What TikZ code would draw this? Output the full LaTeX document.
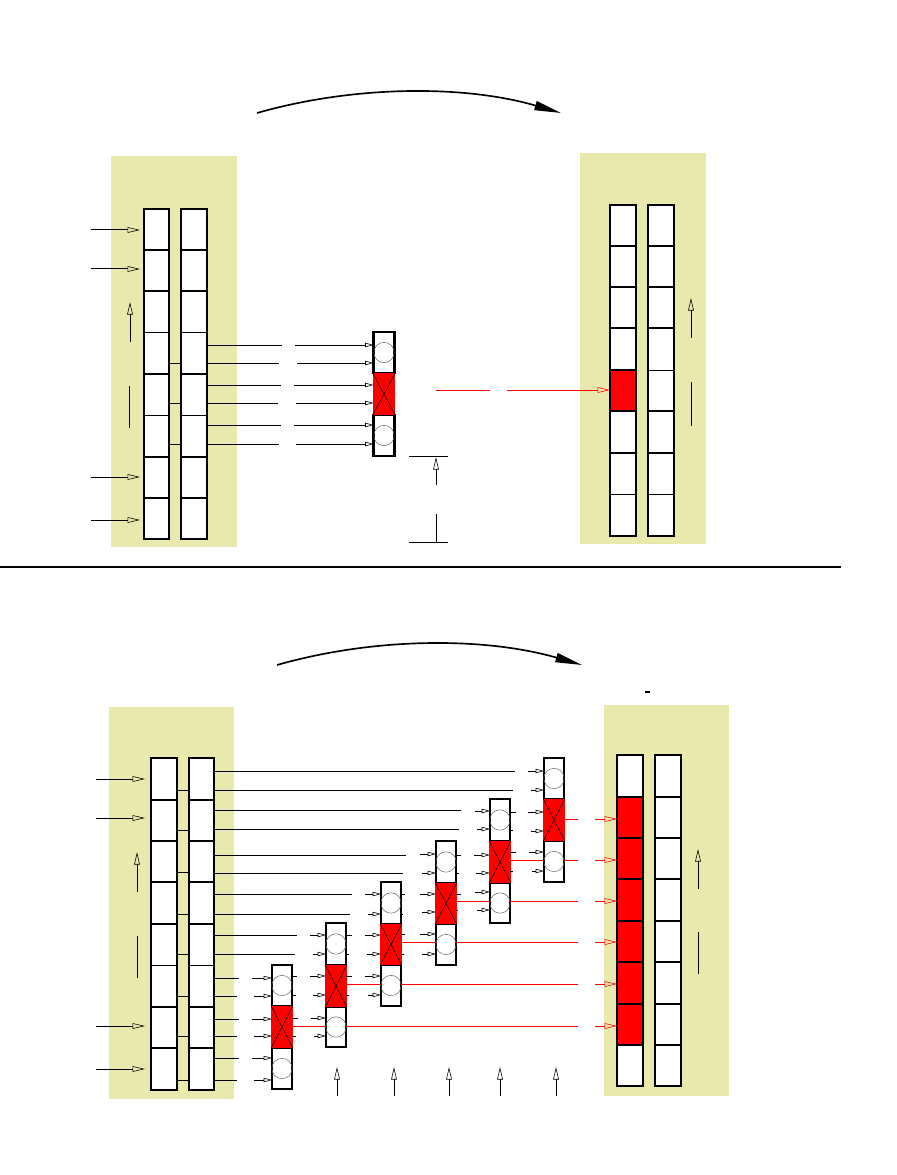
\documentclass[tikz,border=0pt]{standalone}
\usetikzlibrary{arrows.meta,fit,calc}
\definecolor{panelc}{HTML}{E9E9AE}
\newcounter{lk}
\tikzset{
  x=0.6pt,y=-0.6pt,
  panelbox/.style={fill=panelc,inner sep=0pt,outer sep=0pt},
  cellbox/.style={inner sep=0pt,outer sep=0pt},
  framebox/.style={draw=black,line width=1.3pt,inner sep=0pt,outer sep=0pt},
  sepb/.style={draw=black,line width=1.3pt},
  sept/.style={draw=black,line width=0.55pt},
  link/.style={draw=black,line width=0.6pt},
  redlink/.style={draw=red,line width=0.6pt},
  bigopen/.style={-{Triangle[open,length=7.5pt,width=3.4pt,line width=0.35pt]}},
  link2/.style={link,bigopen},
  red2/.style={redlink,bigopen},
  small/.style={link,-{Triangle[open,length=5pt,width=2.6pt,line width=0.35pt]}},
  ringc/.style={circle,draw=black!60,line width=0.3pt,minimum size=12.2pt,inner sep=0pt},
  xline/.style={draw=black,line width=0.3pt},
  arc/.style={draw=black,line width=1pt,-{Triangle[length=16pt,width=5.5pt]}},
}
% name, x1, x2, list of i/ytop/ybottom/fill/separator
\newcommand\stk[4]{%
  \foreach \i/\a/\b/\f/\s in {#4}{\node[cellbox,fill=\f,fit={(#2,\a)(#3,\b)}] (#1-\i) {};}
  \foreach \i/\a/\b/\f/\s in {#4}{\draw[\s] (#1-\i.south west) -- (#1-\i.south east);}
  \node[framebox,fit=(#1-1)(#1-8)] (#1-f) {};
}
% name, x1, x2, y0, y1, y2, y3
\newcommand\cmpr[7]{%
  \node[framebox,fill=white,fit={(#2,#4)(#3,#5)}] (#1-t) {};
  \node[framebox,fill=white,fit={(#2,#6)(#3,#7)}] (#1-b) {};
  \node[cellbox,fill=red,fit={(#2-0.8,#5)(#3+0.8,#6)}] (#1-m) {};
  \draw[xline] (#1-m.north west) -- (#1-m.south east);
  \draw[xline] (#1-m.north east) -- (#1-m.south west);
  \node[ringc] (#1-rt) at (#1-t) {};
  \node[ringc] (#1-rb) at (#1-b) {};
}
% style, node A, node B, y : from right of A to left of B
\newcommand\conn[4]{\draw[#1] (#2.east |- 0,#4) -- (#3.west |- 0,#4);}
% style, free x, node, y : from free end to left of node
\newcommand\cin[4]{\stepcounter{lk}\coordinate (q\thelk) at (#2,#4);\draw[#1] (q\thelk) -- (#3.west |- q\thelk);}
% style, node, free x, y : from right of node to free end
\newcommand\cout[4]{\stepcounter{lk}\coordinate (q\thelk) at (#3,#4);\draw[#1] (#2.east |- q\thelk) -- (q\thelk);}
% style, x1,y1,x2,y2 : free connector
\newcommand\cfree[5]{\stepcounter{lk}\coordinate (p\thelk) at (#2,#3);\coordinate (r\thelk) at (#4,#5);\draw[#1] (p\thelk) -- (r\thelk);}
\begin{document}
\begin{tikzpicture}
\useasboundingbox (0,0) rectangle (897,1175);

% ---------- top half ----------
\node[panelbox,fit={(111,156)(237,547)}] (pTL) {};
\node[panelbox,fit={(580,153)(706,544)}] (pTR) {};

\stk{ta}{144}{169}{1/209/250/white/sepb,2/250/291/white/sepb,3/291/332/white/sept,4/332/374/white/sepb,5/374/415/white/sept,6/415/457/white/sepb,7/457/498/white/sepb,8/498/539/white/sepb}
\stk{tb}{181}{207}{1/209/250/white/sepb,2/250/291/white/sepb,3/291/332/white/sept,4/332/374/white/sepb,5/374/415/white/sept,6/415/457/white/sepb,7/457/498/white/sepb,8/498/539/white/sepb}
\stk{tc}{610}{636}{1/205/246/white/sepb,2/246/287/white/sepb,3/287/328/white/sepb,4/328/370/white/sepb,5/370/411/red/sepb,6/411/453/white/sepb,7/453/494/white/sept,8/494/536/white/sepb}
\stk{td}{648}{674}{1/205/246/white/sepb,2/246/287/white/sepb,3/287/328/white/sepb,4/328/370/white/sept,5/370/411/white/sepb,6/411/453/white/sepb,7/453/494/white/sept,8/494/536/white/sepb}

\cmpr{tx}{373.5}{394.5}{332}{373}{415}{456}

\foreach \y in {230,269,477,520}{\cfree{link2}{91}{\y}{140}{\y}}
\cfree{link2}{130}{342}{130}{302}
\cfree{link}{129.5}{386}{129.5}{428}
\cfree{link2}{691}{338}{691}{298}
\cfree{link}{691}{382}{691}{426}

\foreach \y in {363,403,444}{\conn{link}{ta-4}{tb-4}{\y}}

\cout{link}{tb-4}{282}{345}\cin{small}{295}{tx-t}{345}
\cout{link}{tb-4}{279}{363}\cin{small}{297}{tx-t}{363}
\cout{link}{tb-4}{281}{385}\cin{small}{294}{tx-t}{385}
\cout{link}{tb-4}{278}{403}\cin{small}{296}{tx-t}{403}
\cout{link}{tb-4}{281}{425}\cin{small}{294}{tx-t}{425}
\cout{link}{tb-4}{279}{444}\cin{small}{296}{tx-t}{444}

\cfree{redlink}{436}{390}{490}{390}
\cin{red2}{507}{tc-5}{390}

\cfree{link}{409}{456}{448}{456}
\cfree{link2}{436}{485}{436}{457}
\cfree{link}{436.5}{514}{436.5}{542}
\cfree{link}{409}{542}{448}{542}

\coordinate (a1s) at (257,113);
\coordinate (a1e) at (561,113);
\draw[arc] (a1s) .. controls (355,85) and (465,85) .. (a1e);

\coordinate (ruleL) at (0,567);
\coordinate (ruleR) at (841,567);
\draw[line width=0.9pt] (ruleL) -- (ruleR);

% ---------- bottom half ----------
\coordinate (a2s) at (277,665);
\coordinate (a2e) at (582,665);
\draw[arc] (a2s) .. controls (375,637) and (485,637) .. (a2e);
\coordinate (dashL) at (645,692);
\coordinate (dashR) at (650,692);
\draw[line width=1.3pt] (dashL) -- (dashR);

\node[panelbox,fit={(109,707)(234,1099)}] (pBL) {};
\node[panelbox,fit={(604,705)(729,1096)}] (pBR) {};

\stk{ba}{151}{177}{1/758/800/white/sepb,2/800/841/white/sepb,3/841/882/white/sepb,4/882/924/white/sepb,5/924/965/white/sept,6/965/1007/white/sepb,7/1007/1048/white/sepb,8/1048/1090/white/sepb}
\stk{bb}{189}{214}{1/758/800/white/sepb,2/800/841/white/sepb,3/841/882/white/sepb,4/882/924/white/sepb,5/924/965/white/sept,6/965/1007/white/sepb,7/1007/1048/white/sepb,8/1048/1090/white/sepb}
\stk{bc}{617}{643}{1/755/797/white/sepb,2/797/838/red/sepb,3/838/879/red/sepb,4/879/921/red/sepb,5/921/962/red/sepb,6/962/1004/red/sepb,7/1004/1045/red/sepb,8/1045/1086/white/sepb}
\stk{bd}{655}{681}{1/755/797/white/sepb,2/797/838/white/sepb,3/838/879/white/sepb,4/879/921/white/sepb,5/921/962/white/sepb,6/962/1004/white/sepb,7/1004/1045/white/sepb,8/1045/1086/white/sepb}

\foreach \y in {779,818,1026,1069}{\cfree{link2}{96}{\y}{145}{\y}}
\cfree{link2}{137}{892}{137}{852}
\cfree{link}{137}{936}{137}{978}
\cfree{link2}{698}{889}{698}{849}
\cfree{link}{698}{932}{698}{974}

\foreach \y in {790,830,872,914,954,996,1036,1080}{\conn{link}{ba-4}{bb-4}{\y}}

\cmpr{c1}{272}{292}{965}{1006}{1048}{1089}
\cmpr{c2}{326}{346}{923}{965}{1007}{1047}
\cmpr{c3}{381}{401}{882}{924}{965}{1006}
\cmpr{c4}{436}{456}{841}{883}{924}{965}
\cmpr{c5}{490}{510}{799}{841}{883}{923}
\cmpr{c6}{544}{564}{758}{799}{841}{882}

% lines out of the second register
\foreach \x/\y in {515/771,513/790,461/810,459/829,406/855,403/873,352/894,350/914,297/935,295/954,239/978,237/996,239/1019,237/1036,239/1058,237/1080}{\cout{link}{bb-4}{\x}{\y}}

% comparator inputs
\foreach \x/\y in {252/978,254/996,252/1019,254/1036,252/1058,254/1080}{\cin{small}{\x}{c1-t}{\y}}
\foreach \x/\y in {310/935,313/954,310/976,313/995,311/1018,314/1036}{\cin{small}{\x}{c2-t}{\y}}
\foreach \x/\y in {365/894,368/914,365/935,367/954,365/976,368/995}{\cin{small}{\x}{c3-t}{\y}}
\foreach \x/\y in {420/854,422/873,420/894,422/912,420/934,422/954}{\cin{small}{\x}{c4-t}{\y}}
\foreach \x/\y in {475/811,477/829,474/855,476/873,475/892,477/910}{\cin{small}{\x}{c5-t}{\y}}
\foreach \x/\y in {528/771,531/790,528/812,531/831,529/852,532/871}{\cin{small}{\x}{c6-t}{\y}}

% comparator output stubs
\foreach \x/\y in {297/976,296/995,298/1018,296/1036}{\cout{link}{c1-t}{\x}{\y}}
\foreach \x/\y in {352/935,349/954,352/976,349/995}{\cout{link}{c2-t}{\x}{\y}}
\foreach \x/\y in {405/894,403/914,405/934,404/954}{\cout{link}{c3-t}{\x}{\y}}
\foreach \x/\y in {461/855,459/873,461/894,458/910}{\cout{link}{c4-t}{\x}{\y}}
\foreach \x/\y in {516/812,513/830,516/852,513/871}{\cout{link}{c5-t}{\x}{\y}}

% red result lines
\conn{redlink}{c1-m}{c2-b}{1026}
\conn{redlink}{c2-m}{c3-b}{984}
\conn{redlink}{c3-m}{c4-b}{942}
\conn{redlink}{c4-m}{c5-b}{901}
\conn{redlink}{c5-m}{c6-b}{860}
\cout{redlink}{c2-b}{578}{1026}
\cout{redlink}{c3-b}{578}{984}
\cout{redlink}{c4-b}{578}{942}
\cout{redlink}{c5-b}{578}{901}
\cout{redlink}{c6-b}{578}{860}
\cout{redlink}{c6-m}{578}{819}
\foreach \y in {819,860,901,942,984,1026}{\cin{red2}{595}{bc-1}{\y}}

\foreach \x in {337,394,449,500,556}{\cfree{link2}{\x}{1096}{\x}{1067}}
\end{tikzpicture}
\end{document}
